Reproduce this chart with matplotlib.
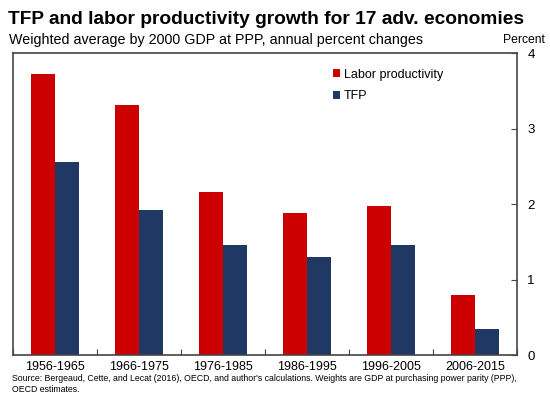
import numpy as np
import matplotlib.pyplot as plt

plt.rcParams['font.family'] = ['Liberation Sans', 'DejaVu Sans']

periods = ['1956-1965', '1966-1975', '1976-1985', '1986-1995', '1996-2005', '2006-2015']
labor = [3.72, 3.31, 2.16, 1.88, 1.97, 0.79]
tfp = [2.56, 1.92, 1.46, 1.30, 1.46, 0.34]
yticks = [0, 1, 2, 3, 4]

red = '#cc0000'
navy = '#1f3864'

fig = plt.figure(figsize=(5.5, 3.97), dpi=100)
ax = fig.add_axes([13 / 550, 1 - 355 / 397, 504 / 550, 302 / 397])

x = np.arange(len(periods))
w = 0.286
ax.bar(x - w / 2, labor, w, color=red, label='Labor productivity')
ax.bar(x + w / 2, tfp, w, color=navy, label='TFP')

ax.set_xlim(-0.5, len(periods) - 0.5)
ax.set_ylim(0, 4)
ax.yaxis.tick_right()
ax.set_yticks(yticks)
ax.set_yticklabels([str(t) for t in yticks], fontsize=9.5)
ax.tick_params(axis='y', direction='in', length=4, pad=10, color='#444444')
for lab in ax.get_yticklabels():
    lab.set_horizontalalignment('center')

# group separators as major ticks, period names as minor tick labels
ax.set_xticks(np.arange(len(periods) + 1) - 0.5)
ax.set_xticklabels([])
ax.tick_params(axis='x', direction='in', length=4, color='#444444')
ax.set_xticks(x, minor=True)
ax.set_xticklabels(periods, minor=True, fontsize=9)
ax.tick_params(axis='x', which='minor', length=0, pad=4)
for s in ax.spines.values():
    s.set_color('#444444')
    s.set_linewidth(1.2)

ax.legend(loc='upper left', bbox_to_anchor=(0.612, 0.985), frameon=False, fontsize=9,
          handlelength=0.6, handleheight=0.6, handletextpad=0.3, labelspacing=0.75)

fig.text(8 / 550, 1 - 20 / 397, 'TFP and labor productivity growth for 17 adv. economies',
         fontsize=13.8, fontweight='bold', va='center', ha='left')
fig.text(9 / 550, 1 - 40 / 397, 'Weighted average by 2000 GDP at PPP, annual percent changes',
         fontsize=10.3, va='center', ha='left')
fig.text(524 / 550, 1 - 40 / 397, 'Percent', fontsize=8.7, va='center', ha='center')
fig.text(12 / 550, 1 - 384 / 397,
         "Source: Bergeaud, Cette, and Lecat (2016), OECD, and author's calculations. Weights are GDP at purchasing power parity (PPP),\nOECD estimates.",
         fontsize=6.3, va='center', ha='left', linespacing=1.15)

fig.savefig('out.png', dpi=100)
